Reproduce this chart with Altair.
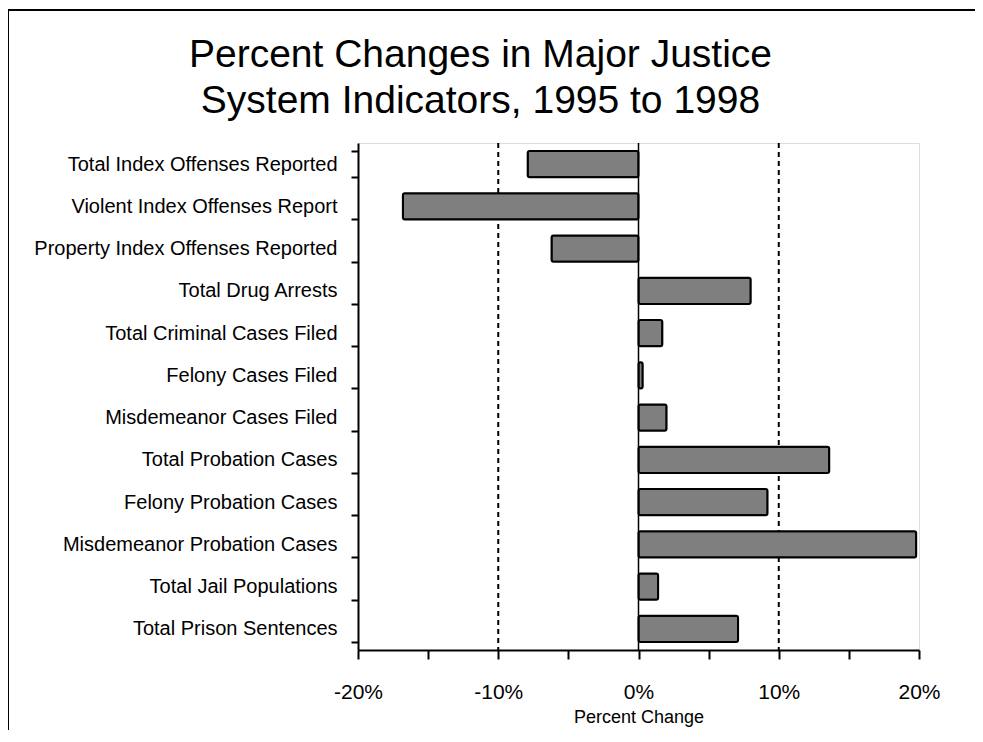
import altair as alt
import pandas as pd

categories = [
    "Total Index Offenses Reported",
    "Violent Index Offenses Report",
    "Property Index Offenses Reported",
    "Total Drug Arrests",
    "Total Criminal Cases Filed",
    "Felony Cases Filed",
    "Misdemeanor Cases Filed",
    "Total Probation Cases",
    "Felony Probation Cases",
    "Misdemeanor Probation Cases",
    "Total Jail Populations",
    "Total Prison Sentences",
]
pct_change = [-7.9, -16.8, -6.2, 8.0, 1.7, 0.3, 2.0, 13.6, 9.2, 19.8, 1.4, 7.1]
x_ticks = [-20, -15, -10, -5, 0, 5, 10, 15, 20]
dashed_lines = [-10, 10]
zero_line = [0]

FONT = "Liberation Sans"

df = pd.DataFrame({"Indicator": categories, "Change": pct_change})
grid_df = pd.DataFrame({"v": dashed_lines})
zero_df = pd.DataFrame({"v": zero_line})

x_scale = alt.Scale(domain=[-20, 20], nice=False, zero=False)
y_scale = alt.Scale(domain=categories, paddingInner=0.38, paddingOuter=0.19)

bars = alt.Chart(df).mark_bar(
    fill="#7f7f7f", stroke="black", strokeWidth=2, cornerRadius=2
).encode(
    x=alt.X("Change:Q", scale=x_scale,
            axis=alt.Axis(values=x_ticks, title="Percent Change",
                          labelExpr="datum.value % 10 == 0 ? datum.value + '%' : ''",
                          labelFontSize=21, labelFont=FONT, labelColor="black",
                          labelFlush=False, labelOverlap=False,
                          labelPadding=22, tickSize=9, tickColor="black", tickWidth=2,
                          domainColor="black", domainWidth=2, grid=False,
                          titleFont=FONT, titleFontSize=18, titleFontWeight="normal",
                          titleColor="black", titlePadding=6)),
    y=alt.Y("Indicator:N", scale=y_scale, sort=categories,
            axis=alt.Axis(title=None, tickBand="extent", tickSize=7, tickColor="black",
                          tickWidth=2, domainColor="black", domainWidth=2,
                          labelFontSize=20, labelFont=FONT, labelColor="black",
                          labelPadding=14, labelLimit=400)),
)

grid = alt.Chart(grid_df).mark_rule(
    color="black", strokeWidth=2, strokeDash=[5, 4]
).encode(x=alt.X("v:Q", scale=x_scale))

zero = alt.Chart(zero_df).mark_rule(color="black", strokeWidth=1.5).encode(
    x=alt.X("v:Q", scale=x_scale)
)

frame_left = alt.Chart(zero_df).mark_rule(color="black", strokeWidth=2).encode(
    x=alt.value(-350), y=alt.value(-133), y2=alt.value(600)
)
frame_top = alt.Chart(zero_df).mark_rule(color="black", strokeWidth=2).encode(
    x=alt.value(-350), x2=alt.value(620), y=alt.value(-133)
)

chart = alt.layer(grid, zero, bars, frame_left, frame_top).properties(
    width=561,
    height=507,
    autosize=alt.AutoSizeParams(type="none"),
    padding={"left": 350, "top": 135, "right": 56, "bottom": 80},
    title=alt.TitleParams(
        text=["Percent Changes in Major Justice", "System Indicators, 1995 to 1998"],
        font=FONT, fontSize=39, fontWeight="normal", color="black",
        anchor="middle", dx=-158, offset=-112, lineHeight=46,
    ),
).configure_view(stroke="black", strokeWidth=2).configure(background="white")

chart.save("out.html", embed_options={"renderer": "svg", "actions": False})
